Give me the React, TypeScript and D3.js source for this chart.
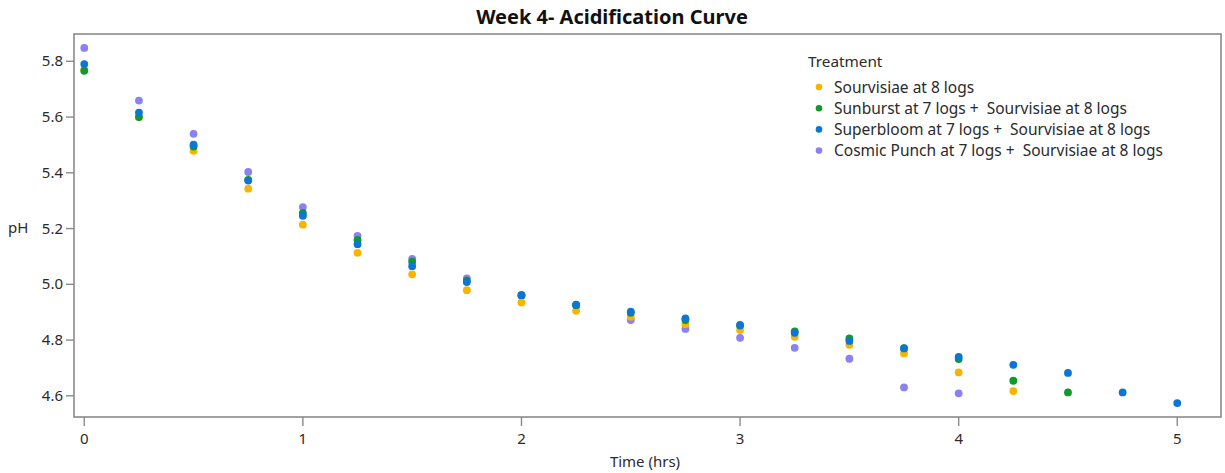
import React from "react";
import * as d3 from "d3";

const times = [0, 0.25, 0.5, 0.75, 1, 1.25, 1.5, 1.75, 2, 2.25, 2.5, 2.75, 3, 3.25, 3.5, 3.75, 4, 4.25, 4.5, 4.75, 5];

const sourvisiae = [5.77, 5.60, 5.479, 5.343, 5.214, 5.113, 5.036, 4.979, 4.935, 4.905, 4.884, 4.857, 4.836, 4.812, 4.783, 4.752, 4.684, 4.617];
const sunburst = [5.766, 5.600, 5.494, 5.375, 5.256, 5.159, 5.081, 5.013, 4.961, 4.925, 4.898, 4.872, 4.852, 4.831, 4.806, 4.771, 4.732, 4.654, 4.612];
const superbloom = [5.790, 5.616, 5.501, 5.372, 5.246, 5.144, 5.065, 5.008, 4.961, 4.927, 4.902, 4.878, 4.854, 4.826, 4.797, 4.770, 4.740, 4.711, 4.682, 4.612, 4.574];
const cosmicPunch = [5.848, 5.659, 5.540, 5.403, 5.277, 5.174, 5.091, 5.021, 4.960, 4.925, 4.872, 4.840, 4.808, 4.772, 4.733, 4.630, 4.609];

const seriesNames = [
  "Sourvisiae at 8 logs",
  "Sunburst at 7 logs +  Sourvisiae at 8 logs",
  "Superbloom at 7 logs +  Sourvisiae at 8 logs",
  "Cosmic Punch at 7 logs +  Sourvisiae at 8 logs",
];
const seriesValues = [sourvisiae, sunburst, superbloom, cosmicPunch];
const seriesColors = ["#F7B500", "#0F9A2C", "#0B76D6", "#8A82F0"];
const drawOrder = [3, 0, 1, 2];

const xTicks = [0, 1, 2, 3, 4, 5];
const yTicks = [4.6, 4.8, 5.0, 5.2, 5.4, 5.6, 5.8];

const FONT = "'Noto Sans', 'Open Sans', sans-serif";

export default function App() {
  const W = 1225, H = 473;
  const left = 74, right = 1221, top = 34, bottom = 417;
  const x = d3.scaleLinear().domain([-0.047, 5.2]).range([left, right]);
  const y = d3.scaleLinear().domain([4.524, 5.898]).range([bottom, top]);
  const axisColor = "#8a8a8a";
  const textColor = "#2b2b2b";

  return (
    <svg width={W} height={H} style={{ position: "absolute", left: 0, top: 0, background: "#fff" }}>
      <text x={612} y={24} textAnchor="middle" fontFamily={FONT} fontWeight="bold" fontSize={20} fill="#111">
        Week 4- Acidification Curve
      </text>
      <rect x={left} y={top} width={right - left} height={bottom - top} fill="none" stroke={axisColor} strokeWidth={1.6} />
      {yTicks.map((t) => (
        <g key={"y" + t}>
          <line x1={left - 8} x2={left} y1={y(t)} y2={y(t)} stroke={axisColor} strokeWidth={1.4} />
          <text x={left - 11} y={y(t) + 5} textAnchor="end" fontFamily={FONT} fontSize={15} fill={textColor}>
            {t.toFixed(1)}
          </text>
        </g>
      ))}
      {xTicks.map((t) => (
        <g key={"x" + t}>
          <line x1={x(t)} x2={x(t)} y1={bottom} y2={bottom + 9} stroke={axisColor} strokeWidth={1.4} />
          <text x={x(t)} y={bottom + 27} textAnchor="middle" fontFamily={FONT} fontSize={15} fill={textColor}>
            {t}
          </text>
        </g>
      ))}
      <text x={8} y={233} fontFamily={FONT} fontSize={15} fill={textColor}>pH</text>
      <text x={645} y={467} textAnchor="middle" fontFamily={FONT} fontSize={15} fill={textColor}>Time (hrs)</text>

      {drawOrder.map((si) => (
        <g key={"s" + si}>
          {seriesValues[si].map((v, i) => (
            <circle key={i} cx={x(times[i])} cy={y(v)} r={3.9} fill={seriesColors[si]} />
          ))}
        </g>
      ))}

      <text x={808} y={67} fontFamily={FONT} fontSize={15.3} fill={textColor}>Treatment</text>
      {seriesNames.map((n, i) => (
        <g key={"l" + i}>
          <circle cx={819} cy={87 + i * 21.2} r={3.3} fill={seriesColors[i]} />
          <text x={834} y={92.5 + i * 21.2} fontFamily={FONT} fontSize={15.5} fill={textColor} style={{ whiteSpace: "pre" }}>{n}</text>
        </g>
      ))}
    </svg>
  );
}
